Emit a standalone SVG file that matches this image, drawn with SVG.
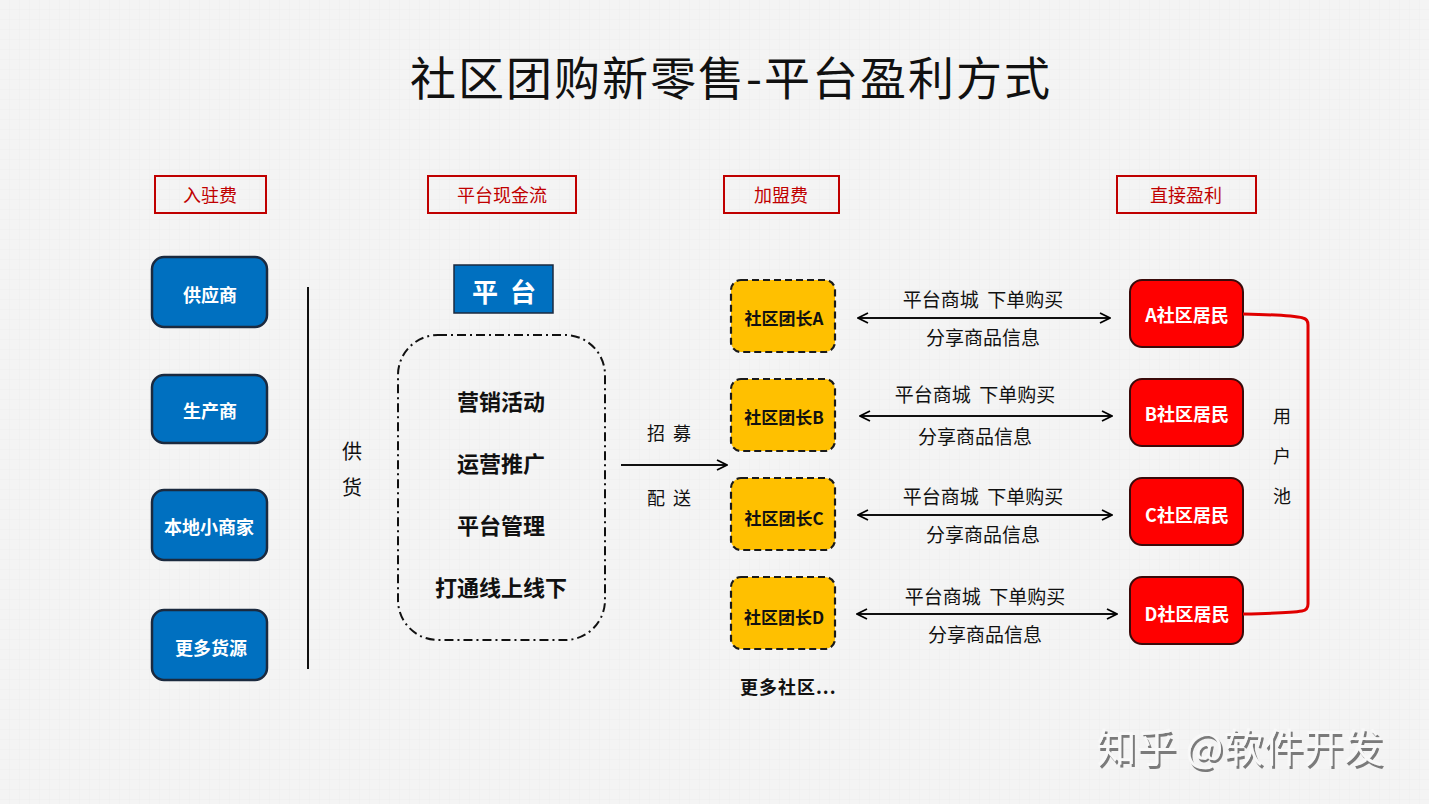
<svg xmlns="http://www.w3.org/2000/svg" width="1429" height="804" viewBox="0 0 1429 804">
<defs>
<pattern id="grid" width="10" height="10" patternUnits="userSpaceOnUse">
<rect width="10" height="10" fill="#f4f4f4"/>
<path d="M10 0V10H0" fill="none" stroke="#ececec" stroke-width="0.6"/>
</pattern>
<marker id="arr" viewBox="0 0 12 12" refX="11" refY="6" markerWidth="12" markerHeight="12" markerUnits="userSpaceOnUse" orient="auto-start-reverse">
<path d="M1 1L11 6L1 11" fill="none" stroke="#000" stroke-width="1.8"/>
</marker>
<filter id="shadow" x="-5%" y="-20%" width="110%" height="140%">
<feDropShadow dx="2" dy="3" stdDeviation="0.6" flood-color="#7a7a7a" flood-opacity="1"/>
</filter>
</defs>
<style>
text{font-family:"Microsoft YaHei","Noto Sans CJK SC",sans-serif;text-anchor:middle;dominant-baseline:central}
.lbl rect{fill:none;stroke:#c00000;stroke-width:2}
.lbl text{fill:#c00000;font-size:18px}
.blue rect{fill:#0070c0;stroke:#1b2a3f;stroke-width:2.5}
.blue text{fill:#fff;font-size:18px;font-weight:bold}
.yel rect{fill:#ffc000;stroke:#1a1a1a;stroke-width:2.2;stroke-dasharray:7 4}
.yel text{fill:#111;font-size:17px;font-weight:bold}
.red rect{fill:#ff0000;stroke:#3a0a0a;stroke-width:2}
.red text{fill:#fff;font-size:18px;font-weight:bold}
.t{fill:#111;font-size:18px}
.s{fill:#111;font-size:19px}
.b{fill:#111;font-size:22px;font-weight:bold}
.conn line{stroke:#111;stroke-width:2}
</style>
<rect width="1429" height="804" fill="url(#grid)"/>
<text x="731" y="75" style="font-size:46px;letter-spacing:2px" fill="#111">社区团购新零售-平台盈利方式</text>

<g id="label-ruzhu" class="lbl"><rect x="155" y="176" width="111" height="37"/><text x="210" y="194">入驻费</text></g>
<g id="label-xianjin" class="lbl"><rect x="428" y="176" width="148" height="37"/><text x="502" y="194">平台现金流</text></g>
<g id="label-jiameng" class="lbl"><rect x="724" y="176" width="115" height="37"/><text x="781" y="194">加盟费</text></g>
<g id="label-yingli" class="lbl"><rect x="1117" y="176" width="139" height="37"/><text x="1186" y="194">直接盈利</text></g>

<g id="supplier" class="blue"><rect x="152" y="257" width="115" height="70" rx="12"/><text x="210" y="294">供应商</text></g>
<g id="producer" class="blue"><rect x="152" y="375" width="115" height="68" rx="12"/><text x="210" y="410">生产商</text></g>
<g id="local" class="blue"><rect x="152" y="490" width="115" height="70" rx="12"/><text x="209" y="526">本地小商家</text></g>
<g id="more-src" class="blue"><rect x="152" y="610" width="115" height="70" rx="12"/><text x="211" y="647">更多货源</text></g>

<g id="supply-label">
<text class="t" x="352" y="450" style="font-size:20px">供</text>
<text class="t" x="352" y="486" style="font-size:20px">货</text>
</g>

<g id="platform"><rect x="454" y="265" width="99" height="48" fill="#0070c0" stroke="#1b2a3f" stroke-width="1.5"/><text x="504" y="290" fill="#fff" style="font-size:26px;font-weight:bold">平&#160;&#160;台</text></g>

<g id="platform-ops">
<rect x="398" y="335" width="207" height="305" rx="40" fill="none" stroke="#111" stroke-width="2" stroke-dasharray="9 4 2 4"/>
<text class="b" x="501" y="400">营销活动</text>
<text class="b" x="501" y="462">运营推广</text>
<text class="b" x="501" y="524">平台管理</text>
<text class="b" x="501" y="586">打通线上线下</text>
</g>

<g id="recruit-label">
<text class="t" x="669" y="432">招&#160;&#160;募</text>
<text class="t" x="669" y="497">配&#160;&#160;送</text>
</g>

<g id="leader-a" class="yel"><rect x="731" y="280" width="104" height="72" rx="10"/><text x="784" y="317">社区团长A</text></g>
<g id="leader-b" class="yel"><rect x="731" y="379" width="104" height="72" rx="10"/><text x="784" y="416">社区团长B</text></g>
<g id="leader-c" class="yel"><rect x="731" y="478" width="104" height="72" rx="10"/><text x="784" y="517">社区团长C</text></g>
<g id="leader-d" class="yel"><rect x="731" y="577" width="104" height="72" rx="10"/><text x="784" y="616">社区团长D</text></g>
<text x="740" y="686" fill="#111" style="font-size:18px;font-weight:bold;text-anchor:start;letter-spacing:1px">更多社区...</text>

<g id="res-a" class="red"><rect x="1130" y="280" width="113" height="67" rx="12"/><text x="1187" y="314">A社区居民</text></g>
<g id="res-b" class="red"><rect x="1130" y="379" width="113" height="67" rx="12"/><text x="1187" y="413">B社区居民</text></g>
<g id="res-c" class="red"><rect x="1130" y="478" width="113" height="67" rx="12"/><text x="1187" y="514">C社区居民</text></g>
<g id="res-d" class="red"><rect x="1130" y="577" width="113" height="67" rx="12"/><text x="1187" y="613">D社区居民</text></g>

<g id="pool-label">
<text class="t" x="1282" y="415">用</text>
<text class="t" x="1282" y="455">户</text>
<text class="t" x="1282" y="495">池</text>
</g>

<g id="connectors" class="conn">
<line x1="308" y1="287" x2="308" y2="669"/>
<line x1="621" y1="465" x2="727" y2="465" marker-end="url(#arr)"/>
<line x1="858" y1="318" x2="1110" y2="318" marker-start="url(#arr)" marker-end="url(#arr)"/>
<line x1="860" y1="416" x2="1112" y2="416" marker-start="url(#arr)" marker-end="url(#arr)"/>
<line x1="858" y1="515" x2="1112" y2="515" marker-start="url(#arr)" marker-end="url(#arr)"/>
<line x1="857" y1="614" x2="1117" y2="614" marker-start="url(#arr)" marker-end="url(#arr)"/>
<path d="M1243 314Q1290 315 1303 318Q1308 319 1308 325V604Q1308 610 1302 611Q1290 613 1243 614" fill="none" stroke="#e00000" stroke-width="3"/>
<text class="s" x="983" y="298">平台商城&#160;&#160;下单购买</text>
<text class="s" x="983" y="336">分享商品信息</text>
<text class="s" x="975" y="393">平台商城&#160;&#160;下单购买</text>
<text class="s" x="975" y="435">分享商品信息</text>
<text class="s" x="983" y="495">平台商城&#160;&#160;下单购买</text>
<text class="s" x="983" y="533">分享商品信息</text>
<text class="s" x="985" y="595">平台商城&#160;&#160;下单购买</text>
<text class="s" x="985" y="633">分享商品信息</text>
</g>

<g id="watermark">
<text x="1240" y="745" fill="#f8f8f8" filter="url(#shadow)" style="font-size:40px">知乎 @软件开发</text>
</g>
</svg>
